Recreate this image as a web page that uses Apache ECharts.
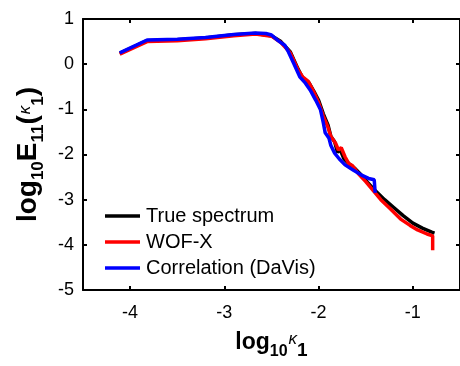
<!doctype html>
<html>
<head>
<meta charset="utf-8">
<title>spectrum</title>
<script src="https://cdn.jsdelivr.net/npm/echarts@6/dist/echarts.min.js"></script>
<style>
  html, body { margin: 0; padding: 0; background: #fff; }
  #chart { width: 460px; height: 366px; }
</style>
</head>
<body>
<div id="chart"></div>
<script>
// log10(kappa1), log10(E11) pairs
var trueSpectrum = [
  [-4.11, 0.24], [-3.82, 0.52], [-3.5, 0.54], [-3.2, 0.58], [-2.9, 0.65], [-2.67, 0.68],
  [-2.5, 0.63], [-2.4, 0.5], [-2.3, 0.27], [-2.22, -0.1], [-2.17, -0.3], [-2.1, -0.42],
  [-2.05, -0.6], [-2.0, -0.8], [-1.95, -1.1], [-1.9, -1.35], [-1.87, -1.6], [-1.83, -1.72],
  [-1.8, -1.95], [-1.77, -1.9], [-1.73, -2.1], [-1.68, -2.2], [-1.62, -2.3], [-1.55, -2.45],
  [-1.48, -2.62], [-1.4, -2.8], [-1.3, -3.0], [-1.2, -3.18], [-1.1, -3.36], [-1.0, -3.52],
  [-0.9, -3.63], [-0.8, -3.72], [-0.77, -3.74]
];
var wofX = [
  [-4.11, 0.22], [-3.82, 0.5], [-3.5, 0.52], [-3.2, 0.56], [-2.9, 0.63], [-2.67, 0.67],
  [-2.5, 0.62], [-2.4, 0.48], [-2.3, 0.25], [-2.22, -0.12], [-2.17, -0.28], [-2.11, -0.38],
  [-2.05, -0.62], [-2.0, -0.85], [-1.95, -1.15], [-1.9, -1.4], [-1.87, -1.6], [-1.82, -1.75],
  [-1.79, -1.9], [-1.76, -1.85], [-1.72, -2.05], [-1.68, -2.2], [-1.64, -2.25], [-1.58, -2.42],
  [-1.5, -2.6], [-1.42, -2.8], [-1.34, -3.0], [-1.24, -3.2], [-1.13, -3.43], [-1.03, -3.57],
  [-0.95, -3.67], [-0.85, -3.76], [-0.79, -3.8], [-0.79, -4.12]
];
var davis = [
  [-4.11, 0.25], [-3.82, 0.535], [-3.5, 0.55], [-3.2, 0.59], [-2.9, 0.655], [-2.67, 0.69],
  [-2.56, 0.68], [-2.5, 0.645], [-2.43, 0.52], [-2.36, 0.42], [-2.32, 0.27], [-2.26, 0.0],
  [-2.2, -0.28], [-2.14, -0.42], [-2.09, -0.57], [-2.03, -0.8], [-1.98, -1.01], [-1.95, -1.3],
  [-1.93, -1.52], [-1.89, -1.64], [-1.87, -1.8], [-1.83, -1.97], [-1.78, -2.1], [-1.72, -2.23],
  [-1.63, -2.35], [-1.55, -2.45], [-1.47, -2.53], [-1.41, -2.56], [-1.4, -2.6], [-1.4, -2.85]
];
var seriesNames = ['True spectrum', 'WOF-X', 'Correlation (DaVis)'];
var seriesColors = ['#000000', '#ff0000', '#0000ff'];
var xTicks = [-4, -3, -2, -1];

var font = 'Liberation Sans, Arial, Helvetica, sans-serif';
var chart = echarts.init(document.getElementById('chart'), null, { renderer: 'canvas' });

function line(name, data, color) {
  return {
    name: name, type: 'line', data: data, showSymbol: false, symbol: 'none',
    lineStyle: { color: color, width: 3.5 }, itemStyle: { color: color },
    animation: false, z: 2
  };
}

var tickStyle = { show: true, inside: true, length: 4, lineStyle: { color: '#000', width: 2 } };
var lineStyleAxis = { show: true, onZero: false, lineStyle: { color: '#000', width: 2 } };

chart.setOption({
  animation: false,
  backgroundColor: '#fff',
  grid: { left: 83, top: 19, width: 380, height: 271 },
  legend: {
    orient: 'vertical', left: 100, top: 201, itemGap: 6,
    icon: 'rect', itemWidth: 35, itemHeight: 3.5,
    textStyle: { fontFamily: font, fontSize: 20, color: '#000', padding: [0, 0, 0, 1] },
    data: seriesNames
  },
  xAxis: [{
    type: 'value', min: -4.5, max: -0.5, position: 'bottom',
    splitLine: { show: false },
    axisLine: lineStyleAxis,
    axisTick: Object.assign({}, tickStyle, { customValues: xTicks }),
    axisLabel: { customValues: xTicks, margin: 14, fontFamily: font, fontSize: 18, color: '#000' },
    name: '{b|log}{s|10}{k|κ}{s1|1}',
    nameLocation: 'middle', nameGap: 41,
    nameTextStyle: {
      rich: {
        b: { fontFamily: font, fontSize: 23, fontWeight: 'bold', color: '#000', verticalAlign: 'top', lineHeight: 24 },
        s: { fontFamily: font, fontSize: 16, fontWeight: 'bold', color: '#000', verticalAlign: 'top', lineHeight: 16, padding: [13, 0, 0, 0] },
        s1: { fontFamily: font, fontSize: 19, fontWeight: 'bold', color: '#000', verticalAlign: 'top', lineHeight: 18, padding: [10, 0, 0, 0] },
        k: { fontFamily: font, fontSize: 17, fontStyle: 'italic', color: '#000', verticalAlign: 'top', lineHeight: 17, padding: [0, 0, 0, 1] }
      }
    }
  }, {
    type: 'value', min: -4.5, max: -0.5, position: 'top',
    splitLine: { show: false },
    axisLine: lineStyleAxis,
    axisTick: Object.assign({}, tickStyle, { customValues: xTicks }),
    axisLabel: { show: false }
  }],
  yAxis: [{
    type: 'value', min: -5, max: 1, interval: 1, position: 'left',
    splitLine: { show: false },
    axisLine: lineStyleAxis,
    axisTick: tickStyle,
    axisLabel: { margin: 9, fontFamily: font, fontSize: 18, color: '#000' },
    name: '{b|log}{s|10}{b|E}{s|11}{b|(}{k|κ}{s|1}{b|)}',
    nameLocation: 'middle', nameGap: 35,
    nameTextStyle: {
      rich: {
        b: { fontFamily: font, fontSize: 28, fontWeight: 'bold', color: '#000', verticalAlign: 'top', lineHeight: 29 },
        s: { fontFamily: font, fontSize: 17, fontWeight: 'bold', color: '#000', verticalAlign: 'top', lineHeight: 17, padding: [16, 0, 0, 0] },
        k: { fontFamily: font, fontSize: 17, fontStyle: 'italic', color: '#000', verticalAlign: 'top', lineHeight: 17, padding: [3, 0, 0, 1] }
      }
    }
  }, {
    type: 'value', min: -5, max: 1, interval: 1, position: 'right',
    splitLine: { show: false },
    axisLine: lineStyleAxis,
    axisTick: tickStyle,
    axisLabel: { show: false }
  }],
  series: [
    line(seriesNames[0], trueSpectrum, seriesColors[0]),
    line(seriesNames[1], wofX, seriesColors[1]),
    line(seriesNames[2], davis, seriesColors[2])
  ]
});
</script>
</body>
</html>
